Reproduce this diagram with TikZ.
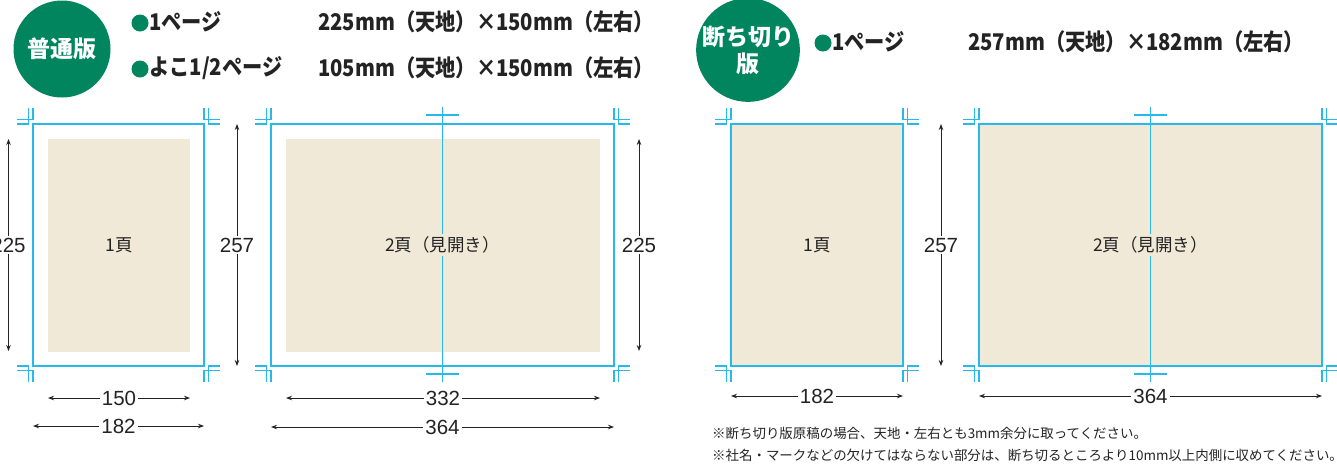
\documentclass[tikz,border=0pt]{standalone}
\usepackage{fontspec}
\usetikzlibrary{arrows.meta}
\setmainfont{Liberation Sans}
\newfontfamily\jp{Noto Sans CJK JP}
\newfontfamily\jph[FakeStretch=0.88]{Noto Sans CJK JP}
\newfontfamily\num{Liberation Sans}
\definecolor{tgreen}{RGB}{0,133,95}
\definecolor{tcyan}{RGB}{40,185,235}
\definecolor{tbeige}{RGB}{240,233,216}
\definecolor{tink}{RGB}{35,35,35}
\newcommand\trimmark[4]{%
  \begin{scope}[shift={(#1,#2)},xscale=#3,yscale=#4]
    \draw[cut] (0,-16) -- (0,-4.5) -- (-16,-4.5);
    \draw[cut] (-4.5,-16) -- (-4.5,0) -- (-16,0);
  \end{scope}}
\newcommand\allmarks[4]{%
  \trimmark{#1}{#2}{1}{1}\trimmark{#3}{#2}{-1}{1}%
  \trimmark{#1}{#4}{1}{-1}\trimmark{#3}{#4}{-1}{-1}}
\tikzset{
  cut/.style={draw=tcyan,line width=1.6pt},
  cutbox/.style={draw=tcyan,line width=1.8pt},
  dim/.style={draw=tink,line width=0.9pt,{Stealth[length=6pt,width=4.5pt]}-{Stealth[length=6pt,width=4.5pt]}},
  dimlabel/.style={fill=white,inner sep=2pt,text=tink,font=\num\fontsize{20.5}{22}\selectfont},
  pagelabel/.style={fill=tbeige,inner sep=3pt,text=tink,font=\jp\fontsize{17.5}{20}\selectfont},
  badge/.style={circle,fill=tgreen,minimum size=97pt,inner sep=0pt,text=white,align=center,font=\jp\bfseries\fontsize{23}{27}\selectfont},
  bullet/.style={circle,fill=tgreen,minimum size=17pt,inner sep=0pt},
  head/.style={anchor=west,inner sep=0pt,text=tink,font=\jph\bfseries\fontsize{23}{26}\selectfont},
  note/.style={anchor=west,inner sep=0pt,text=tink,font=\jp\fontsize{13.45}{16}\selectfont}
}
\begin{document}
\begin{tikzpicture}[x=1pt,y=-1pt]
\useasboundingbox[fill=white] (0,0) rectangle (1337,467);

% ---------- header left ----------
\node[badge] (b1) at (62,49) {普通版};
\node[bullet] (d1) at (140,23) {};
\node[head] (h1) at (149,22) {1ページ};
\node[head] (s1) at (318,22) {225mm（天地）×150mm（左右）};
\node[bullet] (d2) at (140,69) {};
\node[head] (h2) at (149,68) {よこ1/2ページ};
\node[head] (s2) at (318,68) {105mm（天地）×150mm（左右）};

% ---------- header right ----------
\node[badge] (b2) at (748,50) {断ち切り\\[0pt]版};
\node[bullet] (d3) at (823,43) {};
\node[head] (h3) at (832,42) {1ページ};
\node[head] (s3) at (968,42) {257mm（天地）×182mm（左右）};

% ---------- panel A ----------
\fill[tbeige] (48,139) rectangle (190,352);
\draw[cutbox] (33,124) rectangle (204,366);
\allmarks{33}{124}{204}{366}
\node[text=tink,font=\jp\fontsize{17.5}{20}\selectfont] (pA) at (119,245) {1頁};
\coordinate (a225t) at (8.5,139); \coordinate (a225b) at (8.5,351);
\draw[dim] (a225t) -- (a225b) node[midway,dimlabel] (a225) {225};
\coordinate (a257t) at (237,124); \coordinate (a257b) at (237,366);
\draw[dim] (a257t) -- (a257b) node[midway,dimlabel] (a257) {257};
\coordinate (a150l) at (48,398); \coordinate (a150r) at (190,398);
\draw[dim] (a150l) -- (a150r) node[midway,dimlabel] (a150) {150};
\coordinate (a182l) at (33,426); \coordinate (a182r) at (204,426);
\draw[dim] (a182l) -- (a182r) node[midway,dimlabel] (a182) {182};

% ---------- panel B ----------
\fill[tbeige] (286,139) rectangle (600,352);
\draw[cutbox] (271,124) rectangle (614,366);
\allmarks{271}{124}{614}{366}
\coordinate (bt) at (442.5,107); \coordinate (bb) at (442.5,382);
\draw[cut,line width=1.4pt] (bt) -- (bb);
\draw[cut] (426,115) -- (459,115);
\draw[cut] (426,374) -- (459,374);
\node[pagelabel] (pB) at (442.5,245) {2頁（見開き）};
\coordinate (b225t) at (639,139); \coordinate (b225b) at (639,351);
\draw[dim] (b225t) -- (b225b) node[midway,dimlabel] (b225) {225};
\coordinate (b332l) at (286,398); \coordinate (b332r) at (600,398);
\draw[dim] (b332l) -- (b332r) node[midway,dimlabel] (b332) {332};
\coordinate (b364l) at (271,427); \coordinate (b364r) at (614,427);
\draw[dim] (b364l) -- (b364r) node[midway,dimlabel] (b364) {364};

% ---------- panel C ----------
\fill[tbeige] (731,124) rectangle (903,366);
\draw[cutbox] (731,124) rectangle (903,366);
\allmarks{731}{124}{903}{366}
\node[text=tink,font=\jp\fontsize{17.5}{20}\selectfont] (pC) at (817,245) {1頁};
\coordinate (c257t) at (941,124); \coordinate (c257b) at (941,366);
\draw[dim] (c257t) -- (c257b) node[midway,dimlabel] (c257) {257};
\coordinate (c182l) at (731,396); \coordinate (c182r) at (903,396);
\draw[dim] (c182l) -- (c182r) node[midway,dimlabel] (c182) {182};

% ---------- panel D ----------
\fill[tbeige] (979,124) rectangle (1322,366);
\draw[cutbox] (979,124) rectangle (1322,366);
\allmarks{979}{124}{1322}{366}
\coordinate (dt) at (1150.5,107); \coordinate (db) at (1150.5,382);
\draw[cut,line width=1.4pt] (dt) -- (db);
\draw[cut] (1134,115) -- (1167,115);
\draw[cut] (1134,374) -- (1167,374);
\node[pagelabel] (pD) at (1150.5,245) {2頁（見開き）};
\coordinate (d364l) at (979,396); \coordinate (d364r) at (1322,396);
\draw[dim] (d364l) -- (d364r) node[midway,dimlabel] (d364) {364};

% ---------- notes ----------
\node[note] (n1) at (712,433) {※断ち切り版原稿の場合、天地・左右とも3mm余分に取ってください。};
\node[note] (n2) at (712,455) {※社名・マークなどの欠けてはならない部分は、断ち切るところより10mm以上内側に収めてください。};
\end{tikzpicture}
\end{document}
